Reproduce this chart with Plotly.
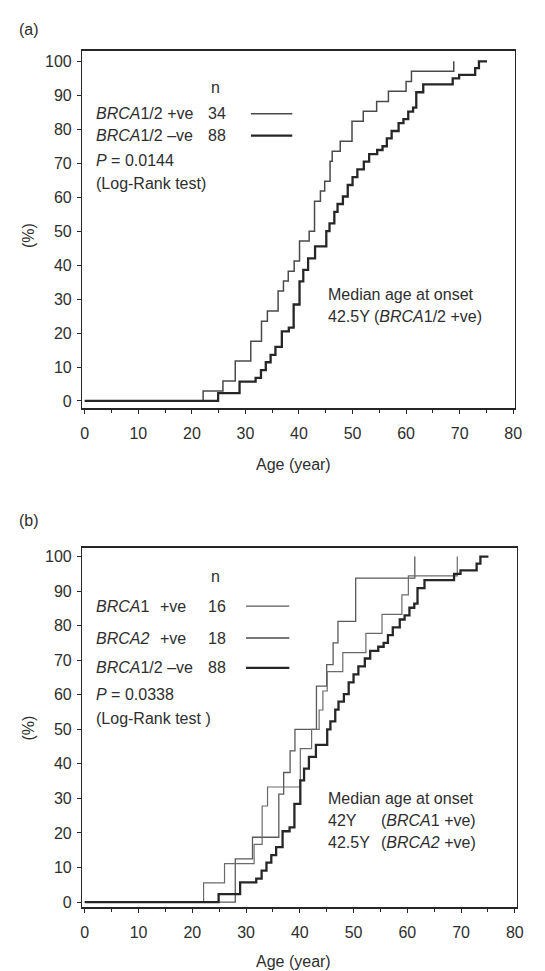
import plotly.graph_objects as go

W, H = 545, 971

# ---------------- data ----------------
# Panel (a): cumulative onset (%) vs age (years)
age_pos_a = [0, 22.1, 25.8, 28.1, 31.0, 33.0, 34.1, 36.1, 37.1, 38.0, 39.1, 40.1, 41.9,
             42.9, 44.0, 44.8, 45.8, 46.2, 47.7, 49.9, 52.0, 54.5, 56.7, 60.0, 61.0, 68.9]
pct_pos_a = [0, 2.9, 5.9, 11.8, 17.6, 23.5, 26.5, 32.4, 35.3, 38.2, 41.2, 47.1, 50.0,
             58.8, 61.8, 64.7, 70.6, 73.5, 76.5, 82.4, 85.3, 88.2, 91.2, 94.1, 97.1, 100]

age_neg = [0, 24.9, 28.9, 31.9, 32.9, 33.8, 34.7, 35.6, 36.8, 38.1,
           39.0, 40.1, 40.8, 41.7, 43.0, 45.1, 45.7, 46.6, 47.2, 48.2,
           49.1, 50.0, 50.9, 52.1, 53.1, 54.6, 55.6, 56.4, 57.3, 58.6,
           59.5, 60.4, 61.3, 61.9, 63.2, 68.7, 69.9, 72.9, 73.6, 75.1]
pct_neg = [0, 2.3, 5.7, 6.8, 9.1, 11.4, 13.6, 15.9, 20.5, 21.6,
           28.4, 35.2, 38.6, 42.0, 45.5, 50.0, 52.3, 55.7, 58.0, 60.2,
           63.6, 65.9, 68.2, 70.5, 72.7, 73.9, 75.0, 77.3, 79.5, 81.8,
           83.0, 85.2, 86.4, 90.9, 93.2, 95.0, 96.0, 98.0, 100, 100]

# Panel (b)
age_b1 = [0, 28.0, 31.2, 36.1, 37.0, 38.2, 39.1, 43.1, 45.0, 46.2, 47.1, 50.4, 61.4]
pct_b1 = [0, 12.5, 18.75, 31.25, 37.5, 43.75, 50.0, 62.5, 68.75, 75.0, 81.25, 93.75, 100]

age_b2 = [0, 22.1, 26.0, 31.5, 33.0, 34.0, 40.1, 42.2, 43.6, 44.3, 45.1, 48.0,
          52.3, 55.3, 59.0, 60.2, 69.3]
pct_b2 = [0, 5.56, 11.1, 16.7, 27.8, 33.3, 44.4, 50.0, 55.6, 61.1, 66.7, 72.2,
          77.8, 83.3, 88.9, 94.4, 100]

x_ticks = [0, 10, 20, 30, 40, 50, 60, 70, 80]
y_ticks = [0, 10, 20, 30, 40, 50, 60, 70, 80, 90, 100]

# ---------------- styling ----------------
FONT = "Liberation Sans, Arial, Helvetica, sans-serif"
TXT = "#2e2e2e"
LINE_DARK = "#262626"
LINE_MID = "#4a4a4a"
FS = 16


def px(x):
    return x / W


def py(y):
    return 1 - y / H


fig = go.Figure()

# panel (a)
fig.add_trace(go.Scatter(x=age_pos_a, y=pct_pos_a, mode="lines", line_shape="hv",
                         line=dict(color=LINE_MID, width=1.5), xaxis="x", yaxis="y",
                         showlegend=False, hoverinfo="skip"))
fig.add_trace(go.Scatter(x=age_neg, y=pct_neg, mode="lines", line_shape="hv",
                         line=dict(color=LINE_DARK, width=2.3), xaxis="x", yaxis="y",
                         showlegend=False, hoverinfo="skip"))
# panel (b)
fig.add_trace(go.Scatter(x=age_b1, y=pct_b1, mode="lines", line_shape="hv",
                         line=dict(color="#5a5a5a", width=1.3), xaxis="x2", yaxis="y2",
                         showlegend=False, hoverinfo="skip"))
fig.add_trace(go.Scatter(x=age_b2, y=pct_b2, mode="lines", line_shape="hv",
                         line=dict(color="#6a6a6a", width=1.2), xaxis="x2", yaxis="y2",
                         showlegend=False, hoverinfo="skip"))
fig.add_trace(go.Scatter(x=age_neg, y=pct_neg, mode="lines", line_shape="hv",
                         line=dict(color=LINE_DARK, width=2.3), xaxis="x2", yaxis="y2",
                         showlegend=False, hoverinfo="skip"))


def xaxis_cfg(domain, rng, anchor):
    return dict(domain=domain, range=rng, anchor=anchor, tickvals=x_ticks,
                ticktext=[str(v) for v in x_ticks], ticks="outside", ticklen=4,
                tickcolor=LINE_DARK, tickwidth=1.2, showline=True, mirror=True,
                linecolor=LINE_DARK, linewidth=1.6, showgrid=False, zeroline=False,
                tickfont=dict(family=FONT, size=FS, color=TXT), ticklabelstandoff=6,
                minor=dict(dtick=5, tick0=0, ticks="outside", ticklen=3,
                           tickcolor=LINE_DARK, tickwidth=1),
                fixedrange=True)


def yaxis_cfg(domain, rng, anchor):
    return dict(domain=domain, range=rng, anchor=anchor, tickvals=y_ticks,
                ticktext=[str(v) for v in y_ticks], ticks="outside", ticklen=4,
                tickcolor=LINE_DARK, tickwidth=1.2, showline=True, mirror=True,
                linecolor=LINE_DARK, linewidth=1.4, showgrid=False, zeroline=False,
                tickfont=dict(family=FONT, size=FS, color=TXT), ticklabelstandoff=2,
                fixedrange=True)


fig.update_layout(
    width=W, height=H,
    margin=dict(l=0, r=0, t=0, b=0),
    paper_bgcolor="white", plot_bgcolor="white",
    xaxis=xaxis_cfg([px(73.3), px(513.3)], [-0.5, 80.3], "y"),
    yaxis=yaxis_cfg([py(401.0), py(43.3)], [-2.0, 103.0], "x"),
    xaxis2=xaxis_cfg([px(73.3), px(516.0)], [-0.5, 80.5], "y2"),
    yaxis2=yaxis_cfg([py(902.0), py(542.0)], [-1.5, 102.4], "x2"),
)

ann = []


def text(t, x, y, anchor="left", size=FS, angle=0):
    ann.append(dict(text=t, x=px(x), y=py(y), xref="paper", yref="paper",
                    xanchor=anchor, yanchor="middle", showarrow=False, borderpad=0,
                    textangle=angle, font=dict(family=FONT, size=size, color=TXT)))


shapes = []


def seg(x0, x1, y, width, color):
    shapes.append(dict(type="line", xref="paper", yref="paper", x0=px(x0), x1=px(x1),
                       y0=py(y), y1=py(y), line=dict(color=color, width=width)))


# panel labels
text("(a)", 8, 22)
text("(b)", 8, 514)

# panel (a) legend
text("n", 209, 80, anchor="center")
text("<i>BRCA</i>1/2 +ve", 86, 106)
text("34", 200, 106)
text("<i>BRCA</i>1/2 \u2013ve", 86, 128)
text("88", 200, 128)
text("<i>P</i> = 0.0144", 86, 153)
text("(Log-Rank test)", 86, 176)
seg(245, 287, 106, 1.5, LINE_MID)
seg(245, 287, 128, 2.3, LINE_DARK)
text("Median age at onset", 322, 287)
text("42.5Y (<i>BRCA</i>1/2 +ve)", 322, 309)
text("Age (year)", 288, 458, anchor="center")
text("(%)", 19, 228, anchor="center", angle=-90)

# panel (b) legend
text("n", 209, 570, anchor="center")
text("<i>BRCA</i>1", 86, 600)
text("+ve", 152, 600)
text("16", 200, 600)
text("<i>BRCA2</i>", 86, 632)
text("+ve", 152, 632)
text("18", 200, 632)
text("<i>BRCA</i>1/2 \u2013ve", 86, 662)
text("88", 200, 662)
text("<i>P</i> = 0.0338", 86, 689)
text("(Log-Rank test )", 86, 713)
seg(240, 284, 600, 1.3, "#5a5a5a")
seg(240, 284, 632, 1.5, LINE_MID)
seg(240, 284, 662, 2.3, LINE_DARK)
text("Median age at onset", 322, 793)
text("42Y", 322, 815)
text("(<i>BRCA</i>1 +ve)", 376, 815)
text("42.5Y", 322, 837)
text("(<i>BRCA2</i> +ve)", 376, 837)
text("Age (year)", 288, 956, anchor="center")
text("(%)", 19, 722, anchor="center", angle=-90)

fig.update_layout(annotations=ann, shapes=shapes)

fig.write_html("out.html")
